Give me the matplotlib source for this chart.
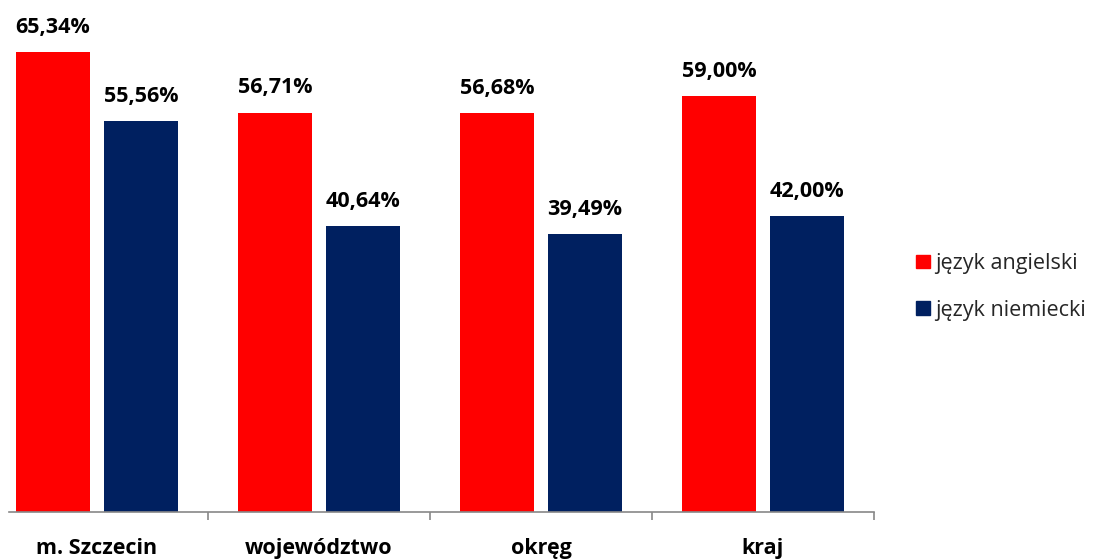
import matplotlib
matplotlib.use("Agg")
import matplotlib.pyplot as plt
import numpy as np
from matplotlib.patches import Patch

plt.rcParams['font.family'] = ['Open Sans', 'DejaVu Sans']

categories = ['m. Szczecin', 'województwo', 'okręg', 'kraj']
angielski = [65.34, 56.71, 56.68, 59.00]
niemiecki = [55.56, 40.64, 39.49, 42.00]
series_names = ['język angielski', 'język niemiecki']
colors = ['#ff0000', '#002060']

W, H = 1105, 560
fig = plt.figure(figsize=(W / 100, H / 100), dpi=100)
# axes: left 9px, right 874px, bottom 512px, top 19px
ax = fig.add_axes([9 / W, (H - 512) / H, (874 - 9) / W, (512 - 19) / H])

x = np.arange(len(categories))
bw = 0.333
off = 0.198
b1 = ax.bar(x - off, angielski, bw, color=colors[0], label=series_names[0])
b2 = ax.bar(x + off, niemiecki, bw, color=colors[1], label=series_names[1])

def fmt(v):
    return ('%.2f' % v).replace('.', ',') + '%'

for bars, vals in ((b1, angielski), (b2, niemiecki)):
    for r, v in zip(bars, vals):
        ax.text(r.get_x() + r.get_width() / 2, v + 3.5, fmt(v), ha='center', va='center',
                fontsize=15.5, fontweight='bold', color='black', clip_on=False)

ax.set_xlim(-0.5 + 23 / 222, 3.5)
ax.set_ylim(0, 70)
for s in ['top', 'right', 'left']:
    ax.spines[s].set_visible(False)
ax.spines['bottom'].set_color('#888888')
ax.spines['bottom'].set_linewidth(1.2)
ax.set_yticks([])
ax.set_xticks(np.arange(0.5, 4, 1))
ax.set_xticklabels([])
ax.tick_params(axis='x', length=6, width=1.2, color='#888888', direction='out')
for i, c in enumerate(categories):
    ax.text(i, -5.2, c, ha='center', va='center', fontsize=15.5, fontweight='bold',
            color='black', clip_on=False)

handles = [Patch(color=colors[0]), Patch(color=colors[1])]
fig.legend(handles, series_names, loc='center left', bbox_to_anchor=(897 / W, 1 - 287 / H),
           frameon=False, fontsize=15.5, handlelength=0.62, handleheight=0.62,
           handletextpad=0.25, labelspacing=1.2, labelcolor='#262626')

fig.savefig('out.png', dpi=100)
